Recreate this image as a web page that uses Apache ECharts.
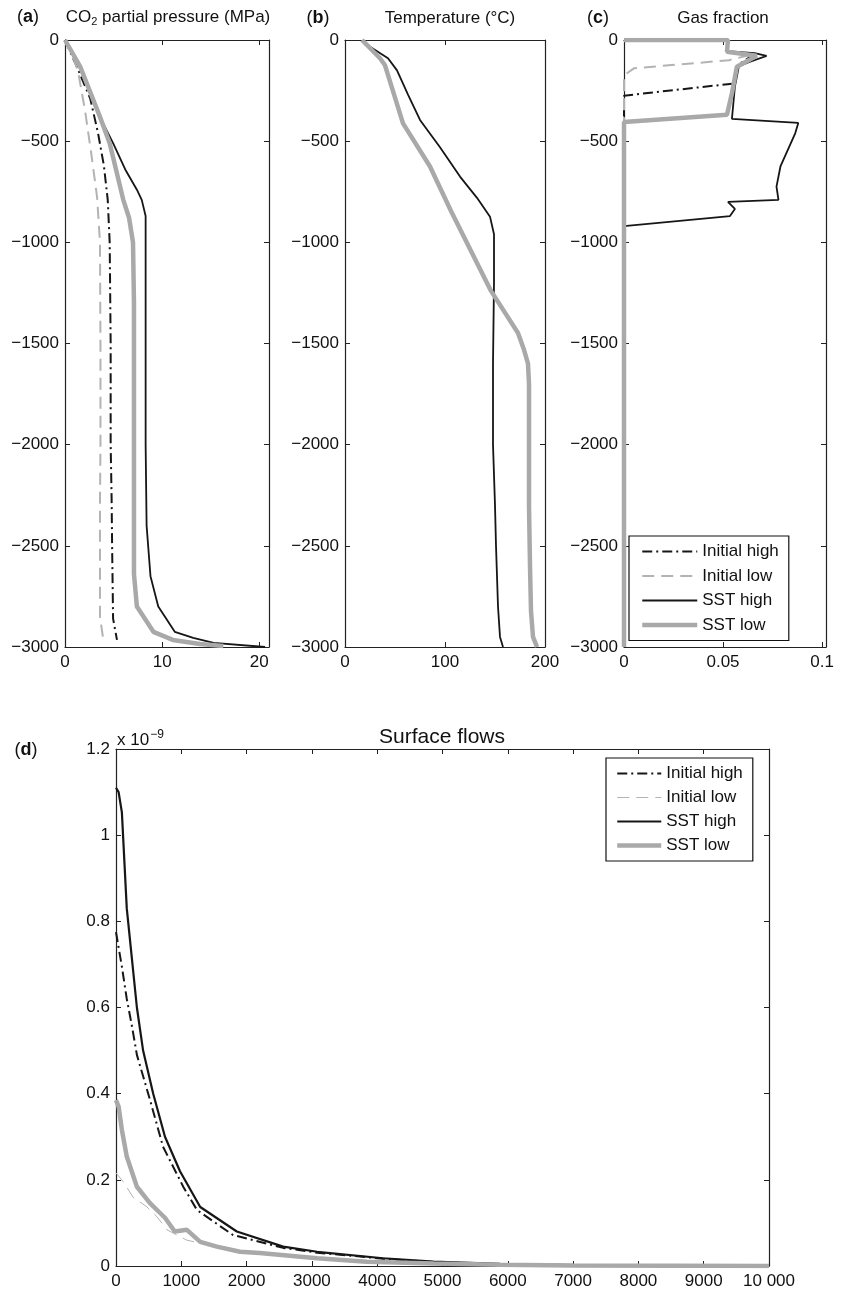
<!DOCTYPE html>
<html><head><meta charset="utf-8">
<script src="https://cdn.jsdelivr.net/npm/echarts@6/dist/echarts.min.js"></script>
<style>html,body{margin:0;padding:0;background:#fff}#c{width:841px;height:1292px}</style>
</head><body><div id="c"></div>
<script>
// ---------- data ----------
const seriesNames = ['Initial high', 'Initial low', 'SST high', 'SST low'];
const depthTicks = [0, -500, -1000, -1500, -2000, -2500, -3000];
const flowTimeTicks = [0, 1000, 2000, 3000, 4000, 5000, 6000, 7000, 8000, 9000, 10000];

// (a) CO2 partial pressure (MPa) vs depth (m)
const aInitHigh = [[0,0],[1.2,-130],[2.6,-290],[3.4,-460],[4.0,-620],[4.4,-790],[4.6,-1000],[4.7,-1500],[4.7,-2000],[4.8,-2270],[4.85,-2500],[4.95,-2860],[5.35,-2965]];
const aInitLow  = [[0,0],[0.8,-80],[1.35,-157],[2.05,-345],[2.7,-560],[3.3,-775],[3.6,-1000],[3.65,-1500],[3.65,-2000],[3.6,-2300],[3.6,-2850],[3.9,-2950]];
const aSSTHigh  = [[0,0],[1.55,-130],[3.0,-300],[3.9,-410],[4.95,-510],[6.2,-640],[7.4,-740],[7.9,-790],[8.3,-870],[8.3,-1500],[8.3,-2000],[8.4,-2400],[8.8,-2650],[9.6,-2800],[11.3,-2925],[13.2,-2955],[15.3,-2980],[20.6,-3000]];
const aSSTLow   = [[0,0],[1.55,-130],[3.6,-380],[4.6,-510],[6.0,-790],[6.6,-880],[7.0,-1000],[7.1,-1300],[7.1,-2000],[7.1,-2640],[7.4,-2800],[9.1,-2925],[11.1,-2965],[13.9,-2985],[16.3,-2995]];

// (b) Temperature (°C) vs depth (m)
const bSSTHigh = [[18,0],[25,-33],[43,-90],[52,-150],[63,-270],[75,-395],[95,-530],[115,-675],[132,-780],[145,-873],[149,-960],[149,-1200],[148,-1600],[148,-2000],[150,-2300],[151,-2500],[153,-2800],[155,-2950],[158,-3000]];
const bSSTLow  = [[17,0],[35,-90],[40,-125],[58,-412],[85,-625],[106,-845],[146,-1240],[173,-1448],[179,-1531],[183,-1600],[184,-1700],[184,-2300],[185,-2600],[186,-2823],[188,-2950],[192,-3000]];

// (c) Gas fraction vs depth (m)
const cInitHigh = [[0,0],[0.0525,0],[0.052,-60],[0.065,-75],[0.058,-120],[0.0555,-215],[0,-275],[0,-3000]];
const cInitLow  = [[0,0],[0.0525,0],[0.052,-60],[0.062,-78],[0.053,-100],[0.005,-140],[0,-175],[0,-3000]];
const cSSTHigh  = [[0,0],[0.0525,0],[0.052,-55],[0.066,-65],[0.072,-78],[0.063,-110],[0.058,-130],[0.056,-230],[0.0545,-390],[0.088,-410],[0.0865,-460],[0.079,-625],[0.077,-725],[0.078,-790],[0.0525,-800],[0.056,-835],[0.0535,-870],[0,-920],[0,-3000]];
const cSSTLow   = [[0,0],[0.0525,0],[0.052,-58],[0.067,-78],[0.057,-132],[0.0545,-263],[0.052,-370],[0,-405],[0,-3000]];

// (d) Surface flows (x 1e-9) vs time
const dInitHigh = [[0,0.775],[90,0.695],[165,0.62],[245,0.556],[320,0.49],[520,0.386],[720,0.277],[1030,0.184],[1240,0.13],[1790,0.072],[2560,0.042],[3080,0.031],[4090,0.017],[4860,0.009],[5880,0.004],[7000,0.002],[10000,0]];
const dInitLow  = [[0,0.216],[110,0.196],[260,0.16],[475,0.137],[630,0.114],[780,0.084],[1085,0.06],[1290,0.053],[1545,0.043],[1900,0.032],[2500,0.025],[3080,0.017],[4000,0.01],[5000,0.005],[6000,0.002],[10000,0]];
const dSSTHigh  = [[0,1.11],[40,1.10],[90,1.053],[165,0.83],[320,0.6],[415,0.50],[570,0.40],[750,0.30],[980,0.22],[1290,0.137],[1850,0.08],[2560,0.045],[3080,0.033],[4090,0.018],[4860,0.01],[5880,0.005],[7000,0.002],[10000,0]];
const dSSTLow   = [[0,0.385],[40,0.37],[90,0.316],[165,0.254],[320,0.184],[520,0.146],[675,0.123],[750,0.112],[900,0.08],[1085,0.084],[1290,0.056],[1545,0.045],[1900,0.033],[2200,0.03],[3080,0.018],[3840,0.01],[4860,0.006],[5880,0.003],[7000,0.001],[10000,0]];

// ---------- styles ----------
const FONT = 'Liberation Sans, Arial, Helvetica, sans-serif';
const BLACK = '#161616', GRAY = '#a9a9a9', GRAYD = '#b3b3b3';
const FS = 17;
const styles = {
  'Initial high': {color: BLACK, width: 2, type: [10,4,2,4]},
  'Initial low':  {color: GRAYD, width: 2, type: [12,7]},
  'SST high':     {color: BLACK, width: 1.8, type: 'solid'},
  'SST low':      {color: GRAY, width: 4.5, type: 'solid'}
};
const minus = v => v < 0 ? '\u2212' + (-v) : String(v);

const grids = [
  {left: 65, top: 40, width: 204, height: 607},
  {left: 345, top: 40, width: 200, height: 607},
  {left: 624, top: 40, width: 202, height: 607},
  {left: 116, top: 749, width: 653, height: 517}
];
const xCfg = [
  {min: 0, max: 21, interval: 10, fmt: v => (v % 10 === 0 ? String(v) : '')},
  {min: 0, max: 200, interval: 100, fmt: v => String(v)},
  {min: 0, max: 0.102, interval: 0.05, fmt: v => (v === 0 ? '0' : (Math.abs(v - 0.05) < 1e-9 ? '0.05' : (Math.abs(v - 0.1) < 1e-9 ? '0.1' : '')))},
  {min: 0, max: 10000, interval: 1000, fmt: v => (v === 10000 ? '10 000' : String(v))}
];
const yCfg = [
  {min: -3000, max: 0, interval: 500, fmt: minus},
  {min: -3000, max: 0, interval: 500, fmt: minus},
  {min: -3000, max: 0, interval: 500, fmt: minus},
  {min: 0, max: 1.2, interval: 0.2, fmt: v => String(Math.round(v * 10) / 10)}
];
const axLine = {show: true, onZero: false, lineStyle: {color: '#222', width: 1.2}};
const axTick = {show: true, inside: true, length: 5, lineStyle: {color: '#222', width: 1}};

const xAxis = [], yAxis = [];
grids.forEach((g, i) => {
  const xc = xCfg[i], yc = yCfg[i];
  xAxis.push({type: 'value', gridIndex: i, position: 'bottom', min: xc.min, max: xc.max, interval: xc.interval,
    axisLine: axLine, axisTick: axTick, splitLine: {show: false},
    axisLabel: {show: true, margin: 7, color: '#111', fontFamily: FONT, fontSize: FS, formatter: xc.fmt, showMaxLabel: i === 1 || i === 3}});
  xAxis.push({type: 'value', gridIndex: i, position: 'top', min: xc.min, max: xc.max, interval: xc.interval,
    axisLine: axLine, axisTick: axTick, splitLine: {show: false}, axisLabel: {show: false}});
  yAxis.push({type: 'value', gridIndex: i, position: 'left', min: yc.min, max: yc.max, interval: yc.interval,
    axisLine: axLine, axisTick: axTick, splitLine: {show: false},
    axisLabel: {show: true, margin: 6, color: '#111', fontFamily: FONT, fontSize: FS, formatter: yc.fmt}});
  yAxis.push({type: 'value', gridIndex: i, position: 'right', min: yc.min, max: yc.max, interval: yc.interval,
    axisLine: axLine, axisTick: axTick, splitLine: {show: false}, axisLabel: {show: false}});
});

function mk(name, gi, data, override) {
  const ls = Object.assign({}, styles[name], override || {});
  return {name: name, type: 'line', xAxisIndex: gi * 2, yAxisIndex: gi * 2, data: data,
    symbol: 'none', showSymbol: false, smooth: false, animation: false, silent: true,
    lineStyle: ls, itemStyle: {color: ls.color}};
}
const series = [
  mk('Initial high', 0, aInitHigh), mk('Initial low', 0, aInitLow), mk('SST high', 0, aSSTHigh), mk('SST low', 0, aSSTLow),
  mk('SST high', 1, bSSTHigh), mk('SST low', 1, bSSTLow),
  mk('Initial high', 2, cInitHigh), mk('Initial low', 2, cInitLow), mk('SST high', 2, cSSTHigh), mk('SST low', 2, cSSTLow),
  mk('Initial high', 3, dInitHigh), mk('Initial low', 3, dInitLow, {width: 1}), mk('SST high', 3, dSSTHigh, {width: 2.2}), mk('SST low', 3, dSSTLow, {width: 4.5})
];

const hiddenSym = {color: 'rgba(0,0,0,0)', borderWidth: 0, borderColor: 'rgba(0,0,0,0)', opacity: 0};
const legItem = (n, w) => {
  const s = styles[n];
  return {name: n, itemStyle: hiddenSym, lineStyle: {color: s.color, type: s.type, width: w !== undefined ? w : s.width, opacity: 1}};
};
const legBase = {orient: 'vertical', selectedMode: false, backgroundColor: '#fff', borderColor: '#111', borderWidth: 1.2,
  textStyle: {fontFamily: FONT, fontSize: FS, color: '#111'}, borderRadius: 0, itemStyle: hiddenSym};
const legends = [
  Object.assign({}, legBase, {left: 629, top: 536, itemWidth: 55, itemHeight: 16, itemGap: 7.5, padding: [7, 10, 7, 11],
    data: seriesNames.map(n => legItem(n))}),
  Object.assign({}, legBase, {left: 606, top: 758, itemWidth: 44, itemHeight: 15, itemGap: 7, padding: [7, 10, 7, 9],
    data: seriesNames.map(n => legItem(n, n === 'Initial low' ? 1 : undefined))})
];

const txt = (x, y, text, extra) => ({type: 'text', x: x, y: y, silent: true,
  style: Object.assign({text: text, fontFamily: FONT, fontSize: FS, fill: '#111', textAlign: 'center', textVerticalAlign: 'middle'}, extra || {})});
const richBase = {n: {fontFamily: FONT, fontSize: 18, fill: '#111'}, b: {fontFamily: FONT, fontSize: 18, fontWeight: 'bold', fill: '#111'}};

const graphic = [
  txt(28, 17, '{n|(}{b|a}{n|)}', {rich: richBase}),
  txt(318, 18, '{n|(}{b|b}{n|)}', {rich: richBase}),
  txt(598, 18, '{n|(}{b|c}{n|)}', {rich: richBase}),
  txt(26, 750, '{n|(}{b|d}{n|)}', {rich: richBase}),
  txt(168, 17, '{n|CO}{s|2}{n| partial pressure (MPa)}', {rich: {n: {fontFamily: FONT, fontSize: FS, fill: '#111'}, s: {fontFamily: FONT, fontSize: 11, fill: '#111', padding: [9, 0, 0, 0]}}}),
  txt(450, 18, 'Temperature (°C)'),
  txt(723, 18, 'Gas fraction'),
  txt(442, 737, 'Surface flows', {fontSize: 21}),
  txt(117, 740, '{n|x 10}{s|\u22129}', {textAlign: 'left', rich: {n: {fontFamily: FONT, fontSize: FS, fill: '#111'}, s: {fontFamily: FONT, fontSize: 12, fill: '#111', padding: [0, 0, 10, 1]}}})
];

const chart = echarts.init(document.getElementById('c'), null, {renderer: 'canvas'});
chart.setOption({
  animation: false, backgroundColor: '#fff',
  grid: grids, xAxis: xAxis, yAxis: yAxis, series: series, legend: legends, graphic: graphic
});
</script></body></html>
